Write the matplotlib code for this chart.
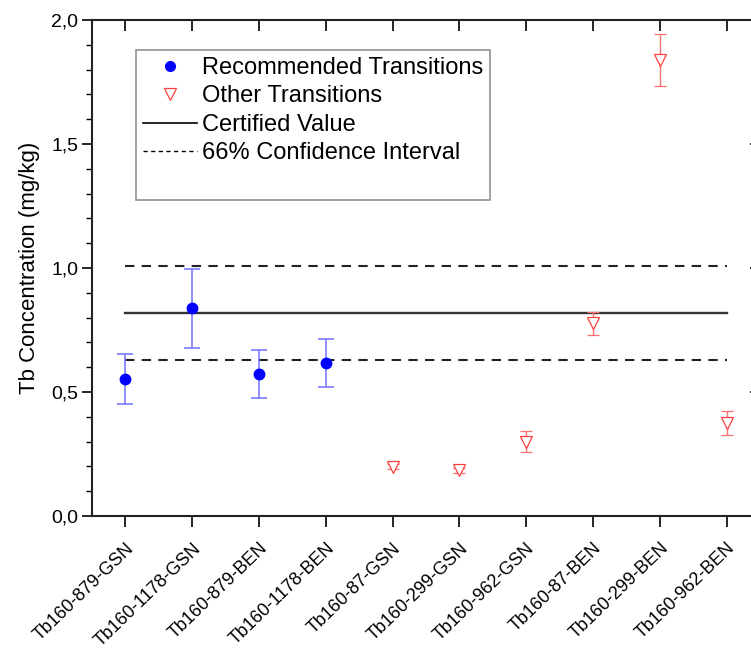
import numpy as np
import matplotlib
matplotlib.use("Agg")
import matplotlib.pyplot as plt
from matplotlib.ticker import MultipleLocator, FuncFormatter
from matplotlib.lines import Line2D

# data
labels = ["Tb160-879-GSN", "Tb160-1178-GSN", "Tb160-879-BEN", "Tb160-1178-BEN",
          "Tb160-87-GSN", "Tb160-299-GSN", "Tb160-962-GSN", "Tb160-87-BEN",
          "Tb160-299-BEN", "Tb160-962-BEN"]
rec_idx = [0, 1, 2, 3]
rec_val = [0.551, 0.837, 0.573, 0.617]
rec_err = [0.101, 0.160, 0.097, 0.095]
oth_idx = [4, 5, 6, 7, 8, 9]
oth_val = [0.199, 0.185, 0.300, 0.777, 1.840, 0.375]
oth_err = [0.010, 0.010, 0.042, 0.047, 0.105, 0.050]
certified = 0.82
ci_low, ci_high = 0.63, 1.01

plt.rcParams["font.family"] = ["Liberation Sans", "DejaVu Sans"]

fig = plt.figure(figsize=(7.51, 6.5), dpi=100)
ax = fig.add_axes([92 / 751, 134 / 650, 668 / 751, 496 / 650])

x = np.arange(len(labels))
ax.plot([0, 9], [certified, certified], color="#333333", lw=1.7)
ax.plot([0, 9], [ci_high, ci_high], color="#222222", lw=1.5, ls=(0, (4.5, 3.5)))
ax.plot([0, 9], [ci_low, ci_low], color="#222222", lw=1.5, ls=(0, (4.5, 3.5)))

ax.errorbar(x[rec_idx], rec_val, yerr=rec_err, fmt="o", color="#0000ff", ms=7.5,
            ecolor="#7a7aff", elinewidth=1.2, capsize=5.5, capthick=1.2, zorder=3)
ax.errorbar(x[oth_idx], oth_val, yerr=oth_err, fmt="v", mfc="white", mec="#ff4040",
            ms=8.5, mew=0.9, ecolor="#ff7070", elinewidth=1.0, capsize=4, capthick=1.0, zorder=3)

ax.set_xlim(-0.5, 9.5)
ax.set_ylim(0, 2.0)
ax.set_xticks(x)
ax.set_xticklabels(labels, rotation=44, ha="right", rotation_mode="anchor", fontsize=13)
ax.yaxis.set_major_locator(MultipleLocator(0.5))
ax.yaxis.set_minor_locator(MultipleLocator(0.1))
ax.yaxis.set_major_formatter(FuncFormatter(lambda v, p: f"{v:.1f}".replace(".", ",")))
ax.tick_params(axis="y", labelsize=14, length=7, width=1.2, direction="out", right=True, pad=3)
ax.tick_params(axis="y", which="minor", length=4, width=1.0, direction="out")
ax.tick_params(axis="x", length=8, width=1.2, direction="out", top=True, pad=9)
for t in ax.xaxis.get_major_ticks():
    t.tick2line.set_marker(3)
for t in ax.yaxis.get_major_ticks():
    t.tick2line.set_marker(0)
for t in ax.yaxis.get_minor_ticks():
    t.tick2line.set_visible(False)
ax.set_ylabel("Tb Concentration (mg/kg)", fontsize=16, labelpad=8)
for s in ax.spines.values():
    s.set_linewidth(1.5)
    s.set_color("#222222")

handles = [
    Line2D([], [], ls="none", marker="o", color="#0000ff", ms=7),
    Line2D([], [], ls="none", marker="v", mfc="white", mec="#ff4040", ms=8, mew=0.9),
    Line2D([], [], color="black", lw=1.2),
    Line2D([], [], color="black", lw=1.0, ls=(0, (3, 2.5))),
    Line2D([], [], ls="none"),
]
names = ["Recommended Transitions", "Other Transitions", "Certified Value",
         "66% Confidence Interval", " "]
leg = ax.legend(handles, names, loc="upper left", bbox_to_anchor=(136 / 751, 1 - 50 / 650),
                bbox_transform=fig.transFigure, fontsize=17, frameon=True, fancybox=False,
                handlelength=2.3, handletextpad=0.2, borderpad=0.3, labelspacing=0.27,
                borderaxespad=0)
leg.get_frame().set_edgecolor("#777777")
leg.get_frame().set_linewidth(1.2)

fig.savefig("out.png", dpi=100)
